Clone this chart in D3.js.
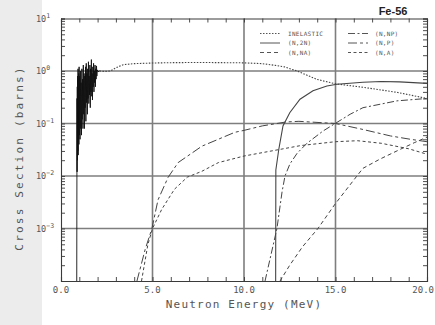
<!DOCTYPE html>
<html><head><meta charset="utf-8">
<script src="https://cdn.jsdelivr.net/npm/d3@7"></script>
<style>body{margin:0;background:#fff;overflow:hidden}</style>
</head><body>
<svg id="c" width="435" height="325"></svg>
<script>
// ---- data ----
const xTickValues = [0, 5, 10, 15, 20];
const xTickLabels = ["0.0", "5.0", "10.0", "15.0", "20.0"];
const yTickExps = [1, 0, -1, -2, -3];
const legendLabels = ["INELASTIC", "(N,2N)", "(N,NA)", "(N,NP)", "(N,P)", "(N,A)"];

// inelastic: resonance region (E < 2.1 MeV) then smooth
const inelasticResonance = [
  [0.86,1e-4],[0.87,0.01],[0.875,0.3],[0.88,0.012],[0.89,0.5],[0.90,0.02],[0.91,0.8],[0.92,0.03],
  [0.93,1.1],[0.94,0.025],[0.95,0.7],[0.96,0.05],[0.97,0.9],[0.98,0.04],[0.99,1.2],[1.00,0.06],
  [1.02,0.8],[1.04,0.05],[1.06,1.0],[1.08,0.08],[1.10,0.6],[1.12,0.06],[1.14,1.1],[1.16,0.12],
  [1.18,0.7],[1.20,0.08],[1.22,1.3],[1.24,0.15],[1.26,0.9],[1.28,0.08],[1.30,0.8],[1.32,0.2],
  [1.34,1.2],[1.36,0.11],[1.38,1.4],[1.40,0.25],[1.42,0.9],[1.44,0.15],[1.46,1.1],[1.48,0.3],
  [1.50,1.5],[1.52,0.24],[1.54,0.8],[1.56,0.35],[1.58,1.3],[1.60,0.2],[1.62,1.1],[1.64,0.4],
  [1.66,1.65],[1.68,0.33],[1.70,0.9],[1.72,0.28],[1.74,1.2],[1.76,0.5],[1.78,1.4],[1.80,0.4],
  [1.82,1.0],[1.84,0.6],[1.86,1.3],[1.88,0.5],[1.90,1.1],[1.92,0.7],[1.94,1.25],[1.96,0.8],
  [1.98,1.05],[2.02,0.97],[2.1,1.0]
];
const inelasticSmooth = [
  [2.1,1.0],[2.4,0.98],[2.7,1.0],[3.0,1.15],[3.4,1.32],[4.0,1.38],[5.0,1.42],[6.0,1.44],
  [7.0,1.45],[8.0,1.45],[9.0,1.44],[10.0,1.43],[11.0,1.38],[11.7,1.28],[12.2,1.2],[12.9,1.0],
  [14.0,0.69],[15.0,0.57],[16.5,0.49],[18.4,0.39],[20.0,0.30]
];
const n2n = [
  [11.73,1e-4],[11.74,0.013],[11.9,0.032],[12.13,0.09],[12.5,0.16],[13.06,0.29],[13.77,0.42],
  [14.53,0.52],[15.08,0.56],[16.5,0.61],[17.5,0.63],[18.5,0.62],[20.0,0.58]
];
const nna = [
  [11.97,1e-4],[12.5,2e-4],[13.2,4.5e-4],[14.04,0.001],[14.97,0.0029],[16.17,0.01],[16.5,0.014],
  [17.43,0.021],[18.52,0.032],[19.3,0.043],[20.0,0.055]
];
const nnp = [
  [11.15,1e-4],[11.8,0.001],[12.08,0.005],[12.24,0.01],[12.51,0.017],[12.9,0.027],[13.44,0.042],
  [14.32,0.072],[15.08,0.105],[15.8,0.15],[16.5,0.2],[18.36,0.27],[20.0,0.30]
];
const np = [
  [4.15,1e-4],[4.6,4e-4],[4.97,0.001],[5.3,0.0035],[5.85,0.0094],[6.4,0.018],[7.7,0.037],
  [9.5,0.068],[10.0,0.074],[11.0,0.09],[12.3,0.107],[13.0,0.11],[15.0,0.1],[16.5,0.077],
  [18.0,0.058],[19.1,0.05],[20.0,0.045]
];
const na = [
  [4.4,1e-4],[4.75,5e-4],[5.0,0.001],[5.5,0.0023],[6.2,0.0056],[6.9,0.0095],[7.7,0.0123],
  [8.6,0.018],[10.0,0.024],[13.1,0.038],[15.0,0.045],[16.2,0.047],[17.5,0.042],[19.0,0.033],[20.0,0.026]
];

// ---- drawing ----
const svg = d3.select("#c");
const W = 435, H = 325;
svg.append("rect").attr("width", W).attr("height", H).attr("fill", "#ffffff");
svg.append("rect").attr("x", 0).attr("y", 0).attr("width", 42).attr("height", H).attr("fill", "#ececec");

const x = d3.scaleLinear().domain([0, 20]).range([61, 427]);
const y = d3.scaleLog().domain([1e-4, 10]).range([281, 18.5]);

svg.append("defs").append("clipPath").attr("id", "clip")
  .append("rect").attr("x", 61).attr("y", 18.5).attr("width", 366).attr("height", 262.5);

const mono = "'DejaVu Sans Mono', 'Liberation Mono', monospace";
const ink = "#3a3a3a";

// grid lines
const grid = svg.append("g");
grid.selectAll("line.gx").data([5, 10, 15]).join("line")
  .attr("x1", d => x(d)).attr("x2", d => x(d)).attr("y1", y(10)).attr("y2", y(1e-4))
  .attr("stroke", "#7e7e7e").attr("stroke-width", 1.6);
grid.selectAll("line.gy").data([0, -1, -2, -3]).join("line")
  .attr("x1", x(0)).attr("x2", x(20)).attr("y1", d => y(Math.pow(10, d))).attr("y2", d => y(Math.pow(10, d)))
  .attr("stroke", "#7e7e7e").attr("stroke-width", 1.6);

// axes with inward ticks
const minorX = d3.range(0, 21, 1);
const xb = d3.axisBottom(x).tickValues(minorX).tickSize(-4).tickFormat("");
const xt = d3.axisTop(x).tickValues(minorX).tickSize(-4).tickFormat("");
const minorY = [];
for (let e = -4; e < 1; e++) for (let m = 1; m < 10; m++) minorY.push(m * Math.pow(10, e));
minorY.push(10);
const yl = d3.axisLeft(y).tickValues(minorY).tickSize(-4).tickFormat("");
const yr = d3.axisRight(y).tickValues(minorY).tickSize(-4).tickFormat("");
function styleAxis(g) {
  g.selectAll("path").attr("stroke", ink).attr("stroke-width", 1.1);
  g.selectAll("line").attr("stroke", ink).attr("stroke-width", 0.9);
}
svg.append("g").attr("transform", `translate(0,${y(1e-4)})`).call(xb).call(styleAxis);
svg.append("g").attr("transform", `translate(0,${y(10)})`).call(xt).call(styleAxis);
svg.append("g").attr("transform", `translate(${x(0)},0)`).call(yl).call(styleAxis);
svg.append("g").attr("transform", `translate(${x(20)},0)`).call(yr).call(styleAxis);

// tick labels
svg.append("g").selectAll("text").data(xTickValues).join("text")
  .attr("x", d => d === 20 ? 434 : x(d)).attr("y", 293)
  .attr("text-anchor", d => d === 20 ? "end" : "middle")
  .attr("font-family", mono).attr("font-size", 9).attr("fill", "#555")
  .text((d, i) => xTickLabels[i]);
const ylab = svg.append("g").selectAll("text").data(yTickExps).join("text")
  .attr("x", 36).attr("y", d => y(Math.pow(10, d)) + 3)
  .attr("font-family", mono).attr("font-size", 8.5).attr("fill", "#555");
ylab.append("tspan").text("10");
ylab.append("tspan").attr("dy", -4).attr("font-size", 6.5).text(d => d < 0 ? "\u2212" + (-d) : "" + d);

// axis titles
svg.append("text").attr("x", 244).attr("y", 308).attr("text-anchor", "middle")
  .attr("font-family", mono).attr("font-size", 11).attr("letter-spacing", 1.2).attr("fill", "#555")
  .text("Neutron Energy (MeV)");
svg.append("text").attr("transform", "translate(23,158) rotate(-90)").attr("text-anchor", "middle")
  .attr("font-family", mono).attr("font-size", 11).attr("letter-spacing", 2.2).attr("fill", "#555")
  .text("Cross Section (barns)");

// title
svg.append("text").attr("x", 393).attr("y", 14.5).attr("text-anchor", "middle")
  .attr("font-family", "'Liberation Sans', Arial, sans-serif").attr("font-weight", "bold")
  .attr("font-size", 11).attr("fill", "#222").text("Fe-56");

// curves
const line = d3.line().x(d => x(d[0])).y(d => y(d[1]));
const plot = svg.append("g").attr("clip-path", "url(#clip)");
const styles = [
  {data: inelasticSmooth, dash: "1.5,1.5", w: 1.1},
  {data: n2n, dash: null, w: 1.1},
  {data: nna, dash: "4,3", w: 1.0},
  {data: nnp, dash: "7,2.5,2,2.5", w: 1.0},
  {data: np, dash: "9,3,3,3", w: 1.0},
  {data: na, dash: "3,2.5", w: 1.0}
];
plot.append("path").attr("d", line(inelasticResonance)).attr("fill", "none")
  .attr("stroke", "#111").attr("stroke-width", 0.9);
plot.selectAll("path.s").data(styles).join("path").attr("class", "s")
  .attr("d", d => line(d.data)).attr("fill", "none").attr("stroke", "#444")
  .attr("stroke-width", d => d.w).attr("stroke-dasharray", d => d.dash);

// legend
const leg = svg.append("g");
const legPos = [[260, 33.5], [260, 43], [260, 52.5], [348, 33.5], [348, 43], [348, 52.5]];
legendLabels.forEach((lab, i) => {
  const [lx, ly] = legPos[i];
  leg.append("line").attr("x1", lx).attr("x2", lx + 20).attr("y1", ly).attr("y2", ly)
    .attr("stroke", "#555").attr("stroke-width", 1).attr("stroke-dasharray", styles[i].dash);
  leg.append("text").attr("x", lx + (i < 3 ? 28 : 27)).attr("y", ly + 2)
    .attr("font-family", mono).attr("font-size", 6).attr("letter-spacing", 0.3).attr("fill", "#555").text(lab);
});
</script>
</body></html>
